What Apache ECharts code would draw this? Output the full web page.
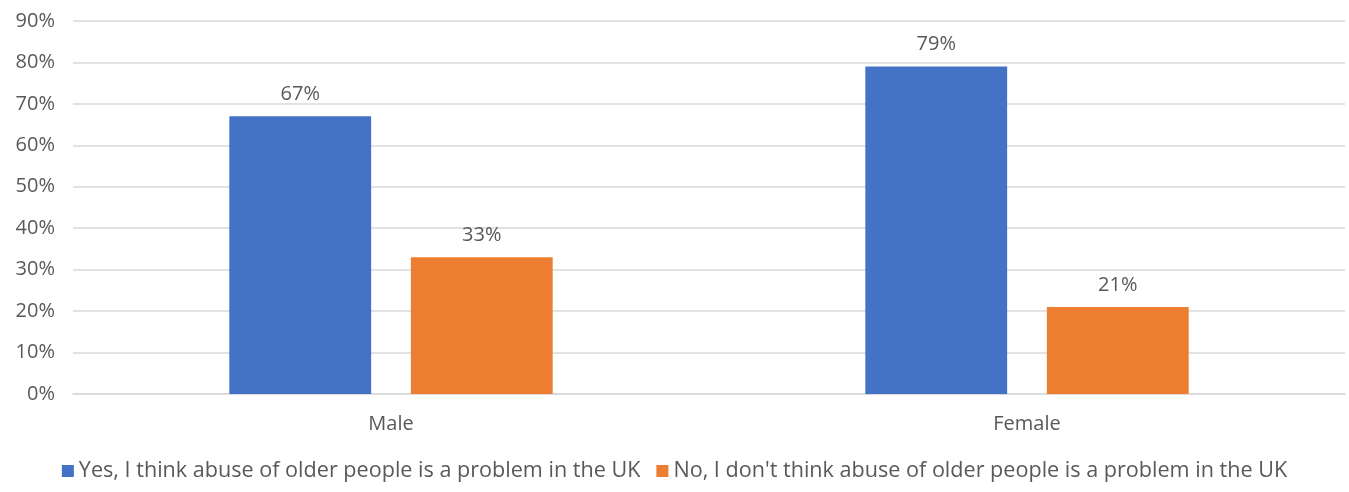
<!DOCTYPE html>
<html><head><meta charset="utf-8">
<script src="https://cdn.jsdelivr.net/npm/echarts@6/dist/echarts.min.js"></script>
<style>html,body{margin:0;padding:0;background:#fff}#c{width:1349px;height:492px}</style>
</head><body><div id="c"></div>
<script>
const categories = ["Male", "Female"];
const seriesNames = ["Yes, I think abuse of older people is a problem in the UK", "No, I don't think abuse of older people is a problem in the UK"];
const yesValues = [67, 79];
const noValues = [33, 21];
const colors = ["#4472C4", "#ED7D31"];
const font = "'Open Sans', 'Noto Sans', sans-serif";
const chart = echarts.init(document.getElementById('c'));
const lbl = {show:true, position:'top', formatter:'{c}%', color:'#595959', fontSize:20, fontFamily:font, distance:12};
chart.setOption({
  animation:false,
  grid:{left:73, right:4, top:21, bottom:98},
  legend:{bottom:5, left:'center', itemWidth:12, itemHeight:12, itemGap:16, icon:'rect',
    textStyle:{color:'#595959', fontSize:21.6, fontFamily:font}},
  xAxis:{type:'category', data:categories, axisTick:{show:false},
    axisLine:{lineStyle:{color:'#D9D9D9', width:1.5}},
    axisLabel:{color:'#595959', fontSize:20, fontFamily:font, margin:20}},
  yAxis:{type:'value', min:0, max:90, interval:10,
    axisLabel:{formatter:'{value}%', color:'#595959', fontSize:20, fontFamily:font, margin:18},
    splitLine:{lineStyle:{color:'#D9D9D9', width:1.5}}},
  series:[
    {name:seriesNames[0], type:'bar', data:yesValues, barWidth:'22.3%', barGap:'28%', itemStyle:{color:colors[0]}, label:lbl},
    {name:seriesNames[1], type:'bar', data:noValues, barWidth:'22.3%', barGap:'28%', itemStyle:{color:colors[1]}, label:lbl}
  ]
});
</script></body></html>
